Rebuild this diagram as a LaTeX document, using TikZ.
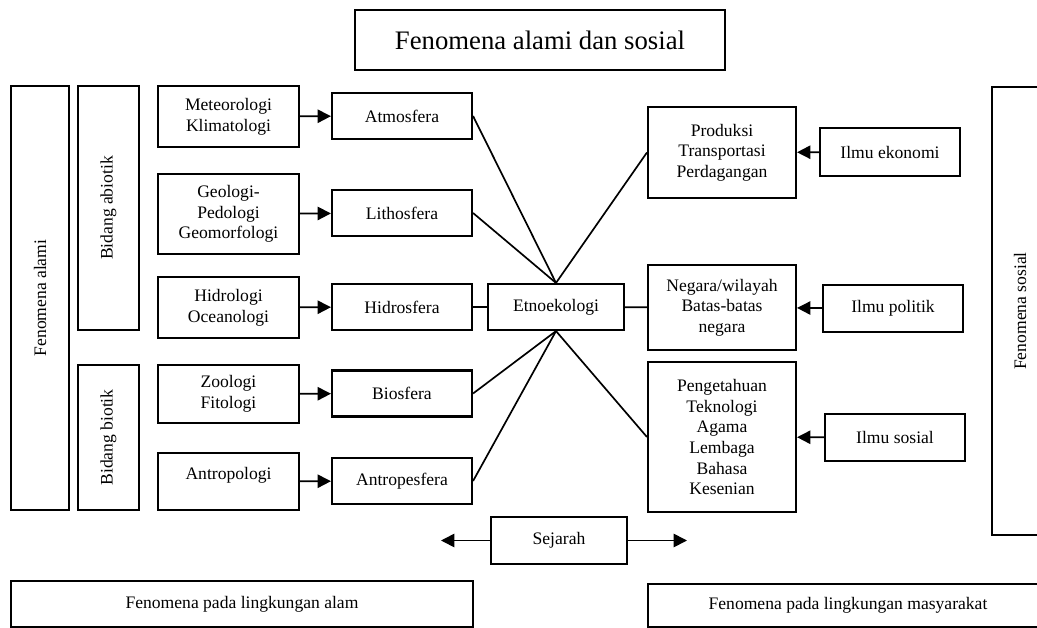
\documentclass[tikz,border=0pt]{standalone}
\usepackage{fontspec}
\setmainfont{Liberation Serif}
\usetikzlibrary{arrows.meta}

\tikzset{
    box/.style={draw, line width=1.5pt, align=center, inner sep=2pt,
        font=\fontsize{12.5}{14.7}\selectfont},
    sz/.style 2 args={minimum width=#1*0.025cm, minimum height=#2*0.025cm},
    link/.style={line width=1.2pt},
    arr/.style={line width=1.2pt, -{Triangle[length=9.5pt,width=9.5pt]}},
}

\begin{document}
\begin{tikzpicture}[x=0.025cm, y=-0.025cm]
    \useasboundingbox (0,0) rectangle (1037,628);
    \clip (0,0) rectangle (1037,628);

    % Title
    \node[box, sz={370}{60}, font=\fontsize{19}{22}\selectfont] (title) at (540, 40) {Fenomena alami dan sosial};

    % Left side: natural phenomena
    \node[box, sz={424}{58}, rotate=90] (alami) at (40, 298) {Fenomena alami};
    \node[box, sz={244}{61}, rotate=90] (abiotik) at (108.5, 208) {Bidang abiotik};
    \node[box, sz={145}{61}, rotate=90] (biotik) at (108.5, 437.5) {Bidang biotik};

    \node[box, sz={141}{61}] (meteo) at (228.5, 116.5) {Meteorologi\\Klimatologi};
    \node[box, sz={141}{80}] (geo) at (228.5, 214) {Geologi-\\Pedologi\\Geomorfologi};
    \node[box, sz={141}{61}] (hidro) at (228.5, 307.5) {Hidrologi\\Oceanologi};
    \node[box, sz={141}{58}] (zoo) at (228.5, 394) {Zoologi\\Fitologi};
    \node[box, sz={141}{57}] (antro) at (228.5, 481.5) {\raisebox{12pt}{Antropologi}};

    \node[box, sz={140}{46}] (atmos) at (402, 116) {Atmosfera};
    \node[box, sz={140}{46}] (litho) at (402, 213) {Lithosfera};
    \node[box, sz={140}{46}] (hidros) at (402, 307) {Hidrosfera};
    \node[box, sz={140}{46}] (bios) at (402, 393.5) {Biosfera};
    \node[box, sz={140}{46}] (antros) at (402, 481) {Antropesfera};

    % Centre
    \node[box, sz={136}{46}] (etno) at (556, 307) {Etnoekologi};
    \node[box, sz={136}{47}] (sejarah) at (559, 540.5) {Sejarah};
    \coordinate (sejL) at (441, 540.5);
    \coordinate (sejR) at (687, 540.5);

    % Right side: social phenomena
    \node[box, sz={148}{91}] (produksi) at (722, 152.5) {Produksi\\Transportasi\\Perdagangan};
    \node[box, sz={148}{85}] (negara) at (722, 307.5) {Negara/wilayah\\Batas-batas\\negara};
    \node[box, sz={148}{150}] (pengetahuan) at (722, 437) {Pengetahuan\\Teknologi\\Agama\\Lembaga\\Bahasa\\Kesenian};

    \node[box, sz={140}{48}] (ekonomi) at (890, 152) {Ilmu ekonomi};
    \node[box, sz={140}{47}] (politik) at (893, 308.5) {Ilmu politik};
    \node[box, sz={140}{47}] (sosial) at (895, 437.5) {Ilmu sosial};

    \node[box, sz={448}{56}, rotate=90] (fsosial) at (1020, 311) {Fenomena sosial};

    % Bottom
    \node[box, sz={462}{46}] (alam) at (242, 604) {Fenomena pada lingkungan alam};
    \node[box, sz={400}{43}] (masy) at (848, 605.5) {Fenomena pada lingkungan masyarakat};

    % Arrows
    \draw[arr] (meteo) -- (atmos);
    \draw[arr] (geo) -- (litho);
    \draw[arr] (hidro) -- (hidros);
    \draw[arr] (zoo) -- (bios);
    \draw[arr] (antro) -- (antros);
    \draw[arr] (ekonomi) -- (produksi);
    \draw[arr] (politik) -- (negara);
    \draw[arr] (sosial) -- (pengetahuan);
    \draw[arr] (sejarah) -- (sejL);
    \draw[arr] (sejarah) -- (sejR);

    % Lines to Etnoekologi
    \draw[link] (atmos.east) -- (etno.north);
    \draw[link] (litho.east) -- (etno.north);
    \draw[link] (produksi.west) -- (etno.north);
    \draw[link] (hidros) -- (etno);
    \draw[link] (etno) -- (negara);
    \draw[link] (bios.east) -- (etno.south);
    \draw[link] (antros.east) -- (etno.south);
    \draw[link] (pengetahuan.west) -- (etno.south);
\end{tikzpicture}
\end{document}
